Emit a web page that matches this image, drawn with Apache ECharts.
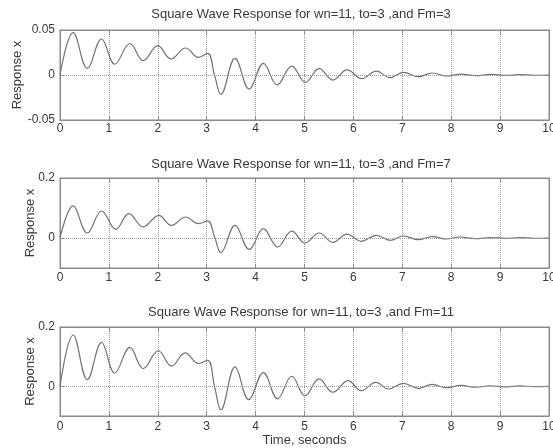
<!DOCTYPE html>
<html>
<head>
<meta charset="utf-8">
<script src="https://cdn.jsdelivr.net/npm/echarts@6/dist/echarts.min.js"></script>
<style>
html,body{margin:0;padding:0;background:#fff;}
#c{width:553px;height:448px;}
</style>
</head>
<body>
<div id="c"></div>
<script>
// ---- data ----
const titles = [
  'Square Wave Response for wn=11, to=3 ,and Fm=3',
  'Square Wave Response for wn=11, to=3 ,and Fm=7',
  'Square Wave Response for wn=11, to=3 ,and Fm=11'
];
const xTicks = [0,1,2,3,4,5,6,7,8,9,10];
const yTicksTop = [-0.05, 0, 0.05];
const yTicksMid = [0, 0.2];
const yTicksBot = [0, 0.2];

const tFm3 = [0,0.27,0.56,0.85,1.12,1.43,1.70,2.0,2.27,2.57,2.83,3.02,3.16,3.29,3.58,3.87,4.16,4.44,4.74,5.02,5.30,5.58,5.87,6.17,6.47,6.75,7.02,7.33,7.61,7.90,8.2,8.5,8.8,9.1,9.4,9.7,10];
const xFm3 = [0,0.047,0.0074,0.040,0.012,0.035,0.016,0.0326,0.0178,0.030,0.0196,0.024,0.0,-0.0215,0.0185,-0.0156,0.013,-0.011,0.0098,-0.0081,0.007,-0.0056,0.0056,-0.004,0.0044,-0.003,0.003,-0.002,0.0022,-0.0011,0.001,-0.0008,0.0006,-0.0005,0.0004,-0.0003,0];

const tFm7 = [0,0.27,0.56,0.85,1.14,1.41,1.70,2.02,2.28,2.57,2.83,3.02,3.16,3.29,3.58,3.87,4.16,4.45,4.74,5.01,5.30,5.58,5.87,6.16,6.47,6.75,7.02,7.33,7.61,7.90,8.17,8.5,8.8,9.1,9.4,9.7,10];
const xFm7 = [0,0.107,0.0167,0.09,0.029,0.081,0.037,0.0756,0.042,0.07,0.048,0.057,0.004,-0.049,0.042,-0.038,0.031,-0.03,0.023,-0.0167,0.0167,-0.0144,0.013,-0.011,0.009,-0.0078,0.0067,-0.0056,0.0044,-0.0033,0.0033,-0.002,0.0015,-0.001,0.001,-0.0008,0];

const tFm11 = [0,0.27,0.56,0.85,1.12,1.43,1.70,2.01,2.28,2.56,2.83,3.02,3.16,3.29,3.58,3.86,4.16,4.45,4.74,5.01,5.30,5.58,5.89,6.16,6.46,6.72,7.02,7.33,7.61,7.90,8.2,8.5,8.8,9.1,9.4,9.7,10];
const xFm11 = [0,0.173,0.0226,0.148,0.045,0.131,0.06,0.12,0.068,0.113,0.077,0.088,0.0,-0.079,0.0655,-0.045,0.046,-0.042,0.034,-0.032,0.025,-0.02,0.019,-0.0147,0.0136,-0.009,0.01,-0.0068,0.0068,-0.0045,0.003,-0.003,0.002,-0.002,0.0015,-0.001,0];

// ---- chart ----
const FONT = 'Liberation Sans, Arial, sans-serif';
const TXT = '#3a3a3a';
const AX = '#8a8a8a';
const LINE = '#727272';

const panels = [
  {top:30, height:90, min:-0.05, max:0.05, ticks:yTicksTop, t:tFm3, x:xFm3, nameGap:36, labMargin:3, titleTop:8},
  {top:178, height:90, min:-0.1, max:0.2, ticks:yTicksMid, t:tFm7, x:xFm7, nameGap:23, labMargin:4, titleTop:158},
  {top:327, height:89, min:-0.1, max:0.2, ticks:yTicksBot, t:tFm11, x:xFm11, nameGap:23, labMargin:5, titleTop:306}
];

const grid = [], xAxis = [], yAxis = [], series = [], title = [];
panels.forEach((p, i) => {
  grid.push({left:60, right:4, top:p.top, height:p.height, show:true, borderColor:AX, borderWidth:1,
    backgroundColor:'#fff', containLabel:false, outerBoundsMode:'none'});
  title.push({text:titles[i], left:301, top:p.titleTop, textAlign:'center', padding:0,
    textStyle:{fontFamily:FONT, fontSize:13, fontWeight:'normal', color:TXT}});
  const common = {type:'value', gridIndex:i, min:0, max:10, interval:1};
  xAxis.push(Object.assign({}, common, {
    position:'bottom',
    axisLine:{show:true, onZero:false, lineStyle:{color:AX}},
    axisTick:{show:true, inside:true, length:4, lineStyle:{color:AX}},
    axisLabel:{show:true, margin:p.labMargin, color:TXT, fontFamily:FONT, fontSize:12,
      customValues:xTicks, formatter:v=>String(v)},
    splitLine:{show:true, lineStyle:{type:'dotted', color:'#9a9a9a', width:1}},
    name: i===2 ? 'Time, seconds' : '',
    nameLocation:'middle', nameGap:18, nameMoveOverlap:false,
    nameTextStyle:{fontFamily:FONT, fontSize:13, color:TXT}
  }));
  xAxis.push(Object.assign({}, common, {
    position:'top',
    axisLine:{show:true, onZero:false, lineStyle:{color:AX}},
    axisTick:{show:true, inside:true, length:4, lineStyle:{color:AX}},
    axisLabel:{show:false}, splitLine:{show:false}
  }));
  const ycommon = {type:'value', gridIndex:i, min:p.min, max:p.max};
  yAxis.push(Object.assign({}, ycommon, {
    position:'left',
    axisLine:{show:true, onZero:false, lineStyle:{color:AX}},
    axisTick:{show:true, inside:true, length:4, lineStyle:{color:AX}, customValues:p.ticks},
    axisLabel:{show:true, margin:5, color:TXT, fontFamily:FONT, fontSize:12, customValues:p.ticks,
      formatter:v=>String(+v.toFixed(4))},
    splitLine:{show:false},
    name:'Response x', nameLocation:'middle', nameRotate:90, nameGap:p.nameGap, nameMoveOverlap:false,
    nameTextStyle:{fontFamily:FONT, fontSize:13, color:TXT}
  }));
  yAxis.push(Object.assign({}, ycommon, {
    position:'right',
    axisLine:{show:true, onZero:false, lineStyle:{color:AX}},
    axisTick:{show:true, inside:true, length:4, lineStyle:{color:AX}, customValues:p.ticks},
    axisLabel:{show:false}, splitLine:{show:false}
  }));
  series.push({
    type:'line', xAxisIndex:2*i, yAxisIndex:2*i,
    data:p.t.map((tv, k) => [tv, p.x[k]]),
    smooth:0.4, showSymbol:false, symbol:'none',
    lineStyle:{color:LINE, width:1.2},
    animation:false,
    markLine:{silent:true, symbol:'none', label:{show:false},
      lineStyle:{type:'dotted', color:'#9a9a9a', width:1},
      data:[{yAxis:0}], animation:false}
  });
});

const chart = echarts.init(document.getElementById('c'), null, {renderer:'canvas'});
chart.setOption({backgroundColor:'#fff', animation:false, title, grid, xAxis, yAxis, series});
</script>
</body>
</html>
